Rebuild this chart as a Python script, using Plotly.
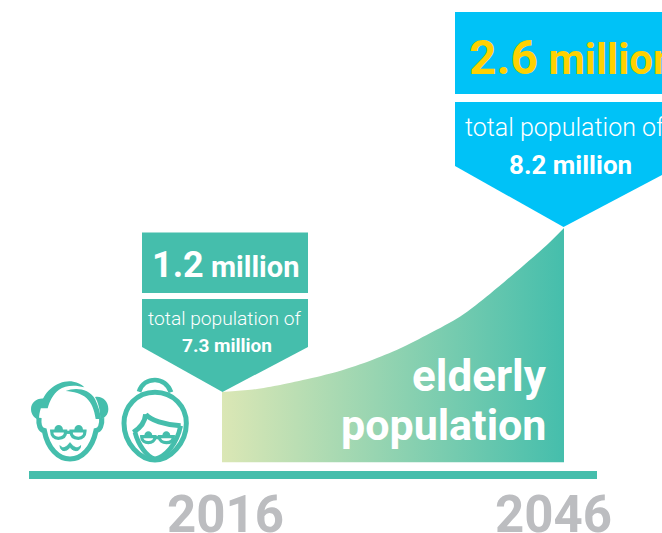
import re
import plotly.graph_objects as go

# Elderly population curve, in millions
years = [2016, 2018.7, 2021.1, 2023.7, 2026.4, 2029.0, 2031.6, 2034.2, 2036.9, 2039.5, 2042.4, 2044.5, 2046]
elderly = [1.2, 1.221, 1.26, 1.315, 1.382, 1.467, 1.571, 1.699, 1.845, 2.037, 2.276, 2.455, 2.6]
curve_floor = 0.6
total_population = {2016: 7.3, 2046: 8.2}
year_labels = ["2016", "2046"]

TEAL = "#45BEAC"
BLUE = "#00C2F7"
YELLOW = "#FFD100"
GREY = "#BCBDC0"
PALE = "#DBE7B5"
FONT = "Roboto"

W, H = 662, 533
# Pixel calibration of the data axes
px_per_year = 342 / 30
px_per_million = 164 / 1.4
x_range = [2016 - 222 / px_per_year, 2016 + (W - 222) / px_per_year]
y_range = [1.2 - (H - 392) / px_per_million, 1.2 + 392 / px_per_million]

fig = go.Figure()
# Floor of the area, then the curve filled down to it
fig.add_trace(go.Scatter(
    x=[years[0], years[-1]], y=[curve_floor, curve_floor],
    mode="lines", line=dict(width=0, color=TEAL),
    hoverinfo="skip", showlegend=False,
))
fig.add_trace(go.Scatter(
    x=years, y=elderly,
    mode="lines",
    line=dict(width=0, color=TEAL, shape="spline", smoothing=0.8),
    fill="tonexty",
    fillgradient=dict(type="horizontal", colorscale=[[0, PALE], [1, TEAL]]),
    hoverinfo="skip", showlegend=False,
))
# Invisible overlay in canvas pixels for the callouts and icons
fig.add_trace(go.Scatter(x=[0], y=[0], xaxis="x2", yaxis="y2", mode="none",
                         hoverinfo="skip", showlegend=False))

shapes = []


def px_shape(path, fill=None, stroke=None, width=0):
    shapes.append(dict(
        type="path", path=path, xref="x2", yref="y2", layer="above",
        fillcolor=fill if fill else "rgba(0,0,0,0)",
        line=dict(color=stroke if stroke else "rgba(0,0,0,0)", width=width),
    ))


def poly(points, color):
    px_shape("M " + " L ".join(f"{x} {y}" for x, y in points) + " Z", fill=color)


# Callout for 2016
poly([(142, 232.5), (308, 232.5), (308, 293), (142, 293)], TEAL)
poly([(142, 299), (308, 299), (308, 347), (222.5, 392), (142, 347)], TEAL)
# Callout for 2046
poly([(455, 12), (662, 12), (662, 94), (455, 94)], BLUE)
poly([(455, 102), (662, 102), (662, 175), (563.5, 227), (455, 166)], BLUE)
# Ground line
poly([(29, 471), (597, 471), (597, 479), (29, 479)], TEAL)


def icon(origin, path, **kw):
    # Icon outlines are sketched on a 3x grid anchored at the given origin
    out, is_x = [], True
    for tok in re.findall(r"-?\d+\.?\d*|[A-Za-z]", path):
        if tok.isalpha():
            out.append(tok)
            is_x = True
        else:
            v = float(tok)
            out.append(f"{origin[0] + v / 3:.2f}" if is_x else f"{origin[1] + v / 3:.2f}")
            is_x = not is_x
    px_shape(" ".join(out), **kw)


# Grandfather
MAN = (25, 375)
icon(MAN, "M 62 72 C 40 66 18 80 18 102 C 18 120 30 132 42 134 C 42 110 50 88 62 72 Z", fill=TEAL)
icon(MAN, "M 210 66 C 232 62 250 78 250 102 C 250 120 238 130 226 134 C 226 108 220 82 210 66 Z", fill=TEAL)
icon(MAN, "M 46 100 C 52 46 105 12 145 20 C 158 22 170 28 178 37 C 150 29 120 31 102 44 C 84 57 74 78 68 100 Z", fill=TEAL)
icon(MAN, "M 122 48 C 150 36 192 40 210 72 C 220 92 226 115 228 132 L 212 132 C 208 105 200 85 185 70 C 170 55 145 50 122 48 Z", fill=TEAL)
icon(MAN, "M 42 128 C 40 150 46 165 58 167 C 68 220 100 252 135 252 C 170 252 202 220 213 167 C 225 165 232 150 230 130",
     stroke=TEAL, width=5.2)
icon(MAN, "M 80 168 L 122 168 C 122 185 112 190 100 190 C 88 190 80 182 80 168 Z", stroke=TEAL, width=3.2)
icon(MAN, "M 138 168 L 180 168 C 180 182 172 190 160 190 C 148 190 138 185 138 168 Z", stroke=TEAL, width=3.2)
icon(MAN, "M 122 172 L 138 172", stroke=TEAL, width=3.2)
icon(MAN, "M 88 165 C 88 145 114 145 114 165 Z", fill=TEAL)
icon(MAN, "M 148 165 C 148 145 174 145 174 165 Z", fill=TEAL)
icon(MAN, "M 105 212 C 115 225 125 215 135 203 C 145 215 155 225 167 212 C 165 232 145 230 135 217 C 125 230 107 232 105 212 Z",
     fill=TEAL, stroke=TEAL, width=1)

# Grandmother
WOMAN = (115, 375)
icon(WOMAN, "M 120 52 C 175 52 214 95 214 145 C 214 205 165 255 120 255 C 75 255 27 205 27 145 C 27 95 65 52 120 52 Z",
     stroke=TEAL, width=5)
icon(WOMAN, "M 72 50 C 80 25 100 15 120 15 C 140 15 160 28 168 52", stroke=TEAL, width=4.7)
icon(WOMAN, "M 92 118 C 105 135 150 150 197 152", stroke=TEAL, width=5)
icon(WOMAN, "M 92 118 C 90 140 78 158 55 172", stroke=TEAL, width=5)
icon(WOMAN, "M 60 172 C 70 210 95 245 120 252 C 150 245 185 210 197 152", stroke=TEAL, width=4.7)
icon(WOMAN, "M 80 185 L 120 185 C 120 198 110 203 100 203 C 90 203 80 198 80 185 Z", stroke=TEAL, width=3.2)
icon(WOMAN, "M 133 185 L 175 185 C 175 198 165 203 154 203 C 143 203 133 198 133 185 Z", stroke=TEAL, width=3.2)
icon(WOMAN, "M 120 188 L 133 188", stroke=TEAL, width=3.2)
icon(WOMAN, "M 88 182 C 88 164 112 164 112 182 Z", fill=TEAL)
icon(WOMAN, "M 142 182 C 142 164 166 164 166 182 Z", fill=TEAL)


def label(x, y, text, size, color="white", weight=700, anchor="center"):
    return dict(x=x, y=y, xref="x2", yref="y2", text=text, showarrow=False,
                xanchor=anchor, yanchor="middle", align=anchor,
                font=dict(family=FONT, size=size, color=color, weight=weight))


def big_figure(value, big, small):
    return (f'<span style="font-size:{big}px">{value}</span> '
            f'<span style="font-size:{small}px">million</span>')


annotations = [
    label(225.5, 265, big_figure(elderly[0], 36, 29), 29),
    label(225, 318, "total population of", 19.2, weight=300),
    label(227, 345, f"{total_population[2016]} million", 19),
    label(467, 57, big_figure(elderly[-1], 48, 42), 42, color=YELLOW, anchor="left"),
    label(463, 127, "total population of", 25, weight=300, anchor="left"),
    label(570, 165, f"{total_population[2046]} million", 26),
    label(549, 376, "elderly", 44, anchor="right"),
    label(548, 425, "population", 43, anchor="right"),
    label(225, 514, year_labels[0], 51, color=GREY),
    label(553, 514, year_labels[1], 51, color=GREY),
]

hidden = dict(visible=False, showgrid=False, zeroline=False, fixedrange=True)
fig.update_layout(
    width=W, height=H,
    margin=dict(l=0, r=0, t=0, b=0),
    paper_bgcolor="white", plot_bgcolor="white",
    showlegend=False,
    xaxis=dict(range=x_range, domain=[0, 1], **hidden),
    yaxis=dict(range=y_range, domain=[0, 1], **hidden),
    xaxis2=dict(range=[0, W], overlaying="x", **hidden),
    yaxis2=dict(range=[H, 0], overlaying="y", **hidden),
    shapes=shapes,
    annotations=annotations,
)
fig.write_html("out.html", config={"displayModeBar": False})
